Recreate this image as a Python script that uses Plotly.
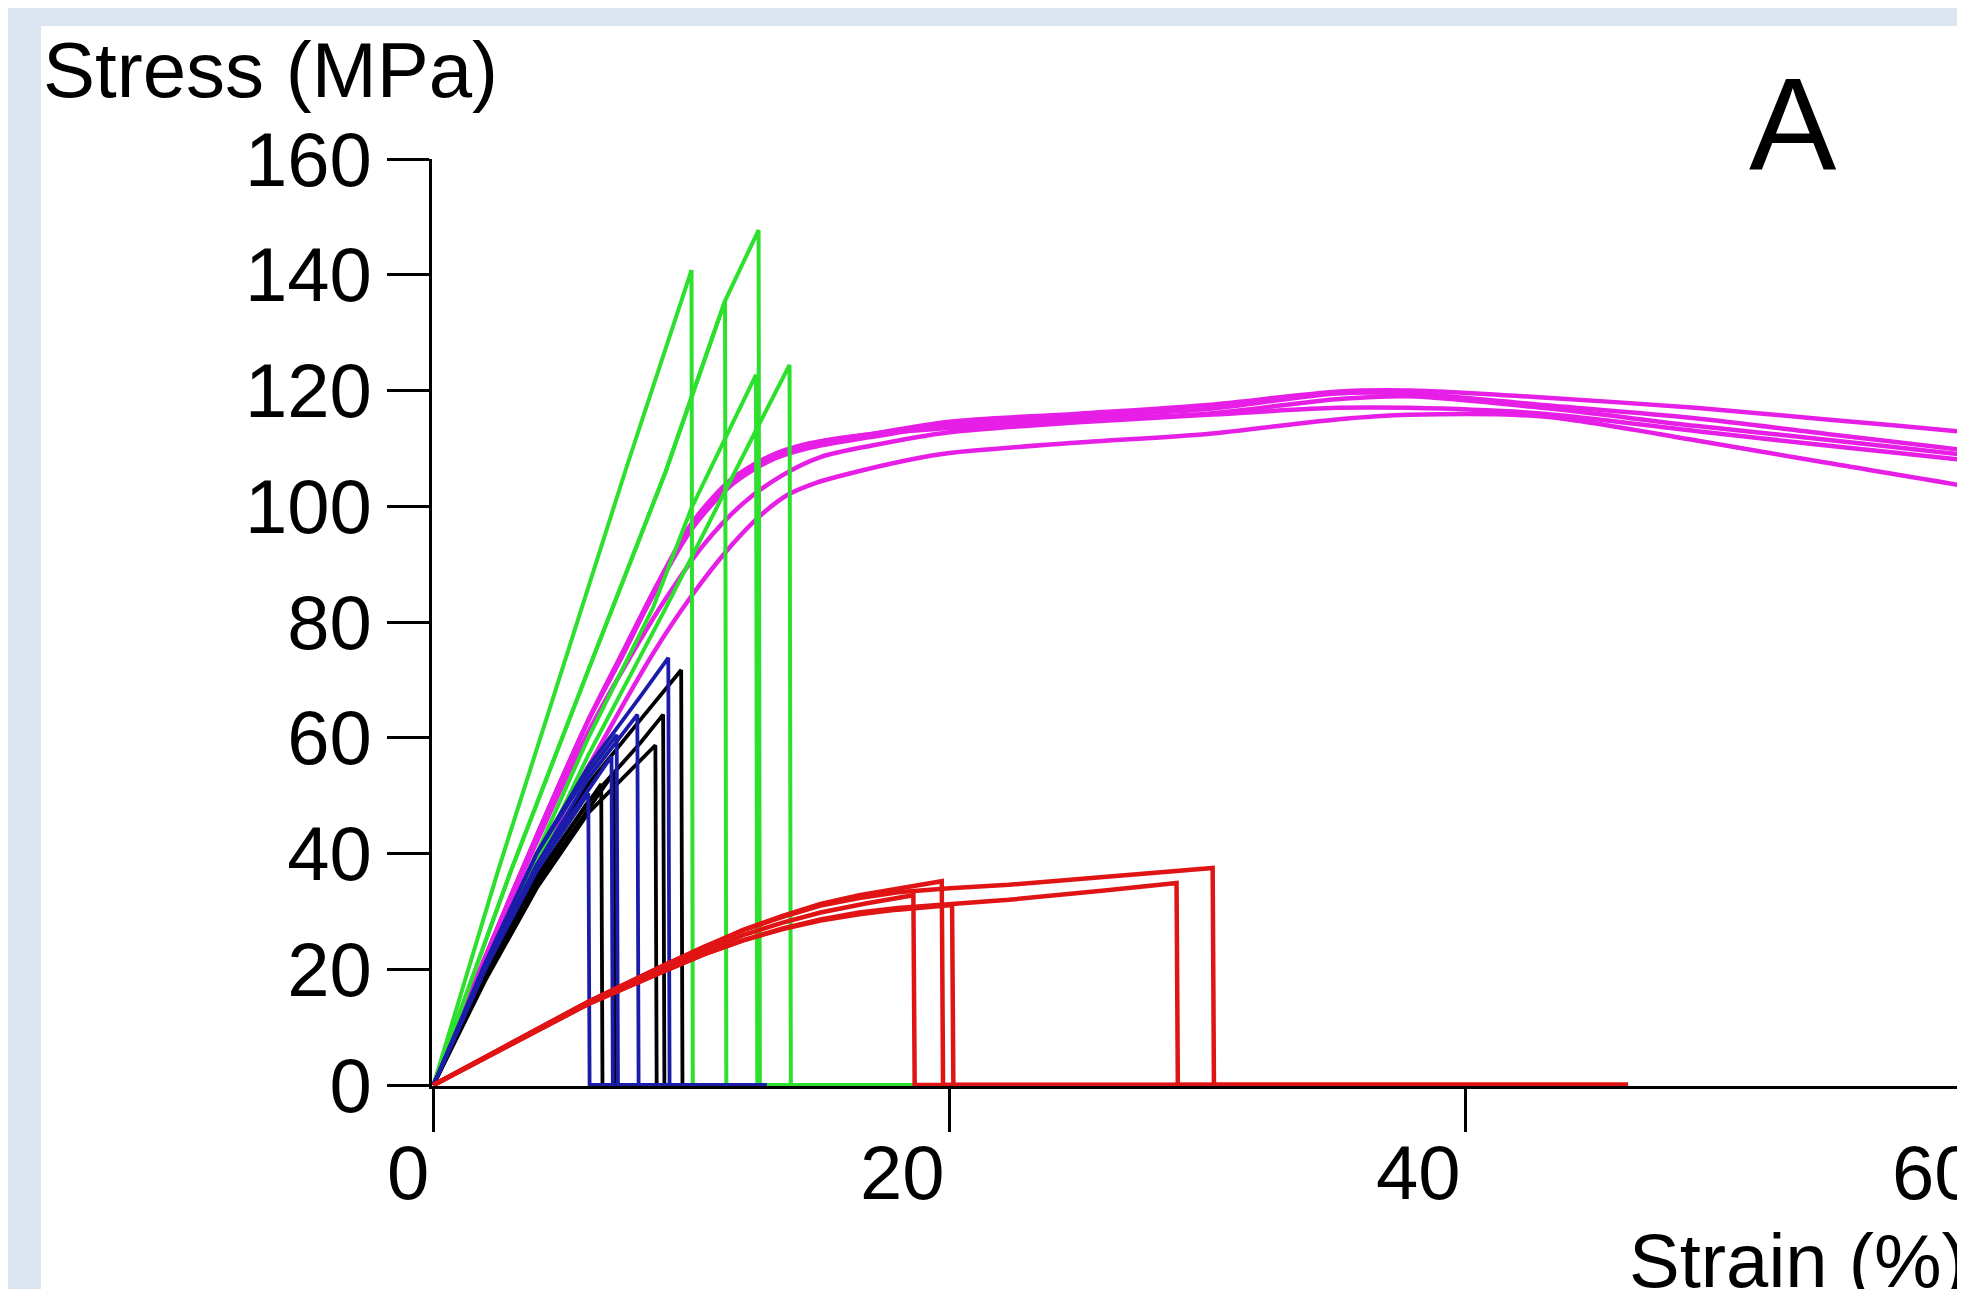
import plotly.graph_objects as go

# ---------------- data (strain %, stress MPa) ----------------
magenta_strain = [
    [0, 2, 4, 6, 7.3, 8.5, 10, 11.5, 13, 14.5, 17, 20, 25, 30, 35, 37.8, 43, 48.9, 54, 59.7, 62],
    [0, 2, 4, 6, 7.3, 8.5, 10, 11.5, 13, 14.5, 17, 20, 25, 30, 35, 37.8, 43, 48.9, 54, 59.7, 62],
    [0, 2, 4, 6, 7.3, 8.5, 10, 11.5, 13, 14.5, 17, 20, 25, 30, 35, 37.8, 43, 48.9, 54, 59.7, 62],
    [0, 2, 4, 6, 7.5, 9, 10.5, 12, 13.5, 15, 17, 20, 25, 30, 35, 37.8, 43, 48.9, 54, 59.7, 62],
    [0, 2, 4, 6, 8.5, 10, 11.5, 12.7, 13.7, 14.8, 15.9, 18.4, 20, 25, 30, 35, 37.8, 43, 48.9, 54, 59.7, 62],
]
magenta_stress = [
    [0, 22, 43, 63, 74.5, 85, 96.5, 104, 108.3, 110.6, 112.5, 114.6, 116, 117.5, 119.8, 120.0, 118.8, 117.0, 115.0, 112.7, 111.5],
    [0, 22, 43, 63, 74, 84.5, 96, 103.5, 107.8, 110.0, 112, 114, 115.5, 116.8, 119.5, 119.5, 117.5, 115.2, 112.5, 109.5, 108.2],
    [0, 22, 43, 63, 74, 85, 97, 104.5, 108.6, 110.8, 112.5, 113.5, 115, 116, 118.5, 119.0, 117, 113.9, 111.5, 108.7, 107.5],
    [0, 21.5, 42, 61, 73, 84, 93.5, 100.5, 105.3, 108.5, 110.5, 112.8, 114.5, 115.8, 117, 117.0, 116, 113.0, 110.5, 107.8, 106.5],
    [0, 20, 38.5, 55, 74.5, 84.5, 93, 98.5, 101.9, 104.0, 105.4, 108, 109.2, 111, 112.5, 115, 115.8, 115.5, 111.4, 107.5, 103.2, 101.0],
]

green_strain = [
    [0, 2.5, 5, 7.5, 10.0, 10.05, 18.6],
    [0, 3, 6.2, 9, 11.3, 11.35, 18.6],
    [0, 3, 6.2, 9, 11.3, 12.6, 12.65, 18.6],
    [0, 3, 6, 8.5, 10, 12.5, 12.55, 18.6],
    [0, 3, 6, 9, 12.6, 13.8, 13.85, 18.6],
]
green_stress = [
    [0, 37, 72, 107, 140.8, 0, 0],
    [0, 37, 74, 106, 135.5, 0, 0],
    [0, 37, 74, 106, 135.5, 147.7, 0, 0],
    [0, 30, 60, 82.4, 99.7, 122.7, 0, 0],
    [0, 29, 57, 82.4, 114, 124.4, 0, 0],
]

black_strain = [
    [0, 2, 4, 6, 8, 9.6, 9.65, 10.5],
    [0, 2, 4, 6, 8, 8.9, 8.95, 10.5],
    [0, 2, 4, 6, 8, 8.6, 8.65, 10.5],
    [0, 2, 4, 6.5, 6.55, 10.5],
    [0, 2, 4, 7.0, 7.05, 10.5],
]
black_stress = [
    [0, 20, 38, 52, 63, 71.7, 0, 0],
    [0, 19, 36, 49, 59, 64.0, 0, 0],
    [0, 18, 34, 47, 56, 58.7, 0, 0],
    [0, 19, 36, 52, 0, 0],
    [0, 18.5, 35, 54, 0, 0],
]

blue_strain = [
    [0, 2, 4, 6, 8, 9.1, 9.15, 12.9],
    [0, 2, 4, 6, 7.9, 7.95, 12.9],
    [0, 2, 4, 6, 7.1, 7.15, 12.9],
    [0, 2, 4, 6, 6.9, 6.95, 12.9],
    [0, 2, 4, 6.0, 6.05, 12.9],
]
blue_stress = [
    [0, 21, 40, 55, 67, 73.8, 0, 0],
    [0, 20, 38, 53, 64.0, 0, 0],
    [0, 21, 40, 54, 60.5, 0, 0],
    [0, 20, 38, 51, 56.8, 0, 0],
    [0, 20, 37, 50.4, 0, 0],
]

red_strain = [
    [0, 3, 6, 9, 10.5, 12, 13.5, 15, 16.8, 18.6, 18.65, 46.3],
    [0, 3, 6, 9, 10.5, 12, 13.5, 15, 16.5, 18, 19.7, 19.75, 46.3],
    [0, 3, 6, 9, 10.5, 12, 13.5, 15, 16.5, 18, 20.1, 20.15, 46.3],
    [0, 3, 6, 9, 10.5, 12, 13.5, 15, 16.5, 18, 20, 22.3, 26, 28.8, 28.85, 46.3],
    [0, 3, 6, 9, 10.5, 12, 13.5, 15, 16.5, 18, 20, 22.3, 26, 30.2, 30.25, 46.3],
]
red_stress = [
    [0, 7.2, 14.2, 20.3, 23.2, 25.9, 28.0, 29.8, 31.4, 32.8, 0, 0],
    [0, 7.3, 14.4, 20.8, 23.9, 26.8, 29.2, 31.3, 32.8, 34.0, 35.2, 0, 0],
    [0, 7.1, 14.0, 19.8, 22.6, 25.0, 26.9, 28.4, 29.5, 30.3, 31.1, 0, 0],
    [0, 7.1, 14.0, 19.8, 22.6, 25.0, 27.0, 28.6, 29.8, 30.6, 31.3, 32.0, 33.6, 34.9, 0, 0],
    [0, 7.3, 14.4, 20.8, 23.9, 26.7, 29.0, 31.0, 32.3, 33.3, 34.0, 34.6, 36.0, 37.5, 0, 0],
]

y_ticks = [0, 20, 40, 60, 80, 100, 120, 140, 160]
x_ticks = [0, 20, 40, 60]
x_tick_labels = ["0", "20", "40", "60"]

# ---------------- styling ----------------
W, H = 1965, 1289
L, R, T, B = 424, 0, 151, 211
PX_PER_X = 25.8      # px per 1 % strain
PX_PER_Y = 5.7875    # px per 1 MPa
plot_w = W - L - R
plot_h = H - T - B
x0 = -1.5 / PX_PER_X
x1 = x0 + plot_w / PX_PER_X
y1 = 160
y0 = y1 - plot_h / PX_PER_Y

FONT = "Liberation Sans, Arial, sans-serif"
FS = 76
AXW = 3

def pxx(px):
    return (px - L) / plot_w

def pxy(py):
    return (H - B - py) / plot_h

def xval_paper(v):
    return (v - x0) / (x1 - x0)

fig = go.Figure()

groups = [
    (magenta_strain, magenta_stress, "#e61ee6", "spline", 4.5),
    (green_strain, green_stress, "#2ee02e", "linear", 4.0),
    (black_strain, black_stress, "#000000", "linear", 3.8),
    (blue_strain, blue_stress, "#1c1caa", "linear", 3.8),
    (red_strain, red_stress, "#e01414", "linear", 4.5),
]
for xs_list, ys_list, col, shape, lw in groups:
    for xs, ys in zip(xs_list, ys_list):
        fig.add_trace(go.Scatter(x=xs, y=ys, mode="lines",
                                 line=dict(color=col, width=lw, shape=shape, smoothing=0.8),
                                 showlegend=False, hoverinfo="skip"))

fig.update_xaxes(range=[x0, x1], showgrid=False, zeroline=False,
                 showline=True, linecolor="black", linewidth=AXW,
                 ticks="outside", tickvals=x_ticks, ticklen=43,
                 tickwidth=2.5, tickcolor="black", showticklabels=False,
                 layer="below traces")
fig.update_yaxes(range=[y0, y1], showgrid=False, zeroline=False,
                 showline=True, linecolor="black", linewidth=AXW,
                 ticks="outside", tickvals=y_ticks, ticklen=42,
                 tickwidth=AXW, tickcolor="black",
                 tickfont=dict(family=FONT, size=FS, color="black"),
                 layer="below traces")

annotations = []
for v, t in zip(x_ticks, x_tick_labels):
    annotations.append(dict(x=xval_paper(v), y=pxy(1164.5), xref="paper", yref="paper",
                            text=t, showarrow=False, xanchor="right", yanchor="middle",
                            xshift=-3,
                            font=dict(family=FONT, size=FS, color="black")))
annotations.append(dict(x=pxx(33), y=pxy(62), xref="paper", yref="paper",
                        text="Stress (MPa)", showarrow=False, xanchor="left", yanchor="middle",
                        font=dict(family=FONT, size=78, color="black")))
annotations.append(dict(x=pxx(1619), y=pxy(1252), xref="paper", yref="paper",
                        text="Strain (%)", showarrow=False, xanchor="left", yanchor="middle",
                        font=dict(family=FONT, size=FS, color="black")))
annotations.append(dict(x=pxx(1785), y=pxy(116), xref="paper", yref="paper",
                        text="A", showarrow=False, xanchor="center", yanchor="middle",
                        font=dict(family=FONT, size=131, color="black")))

shapes = [dict(type="rect", xref="paper", yref="paper",
               x0=pxx(33), x1=pxx(W + 50), y0=pxy(H + 50), y1=pxy(18),
               fillcolor="white", line=dict(width=0), layer="below")]

fig.update_layout(
    width=W, height=H,
    margin=dict(l=L, r=R, t=T, b=B, autoexpand=False),
    paper_bgcolor="#dbe5f1", plot_bgcolor="white",
    showlegend=False,
    annotations=annotations, shapes=shapes,
)

fig.write_html("out.html")
